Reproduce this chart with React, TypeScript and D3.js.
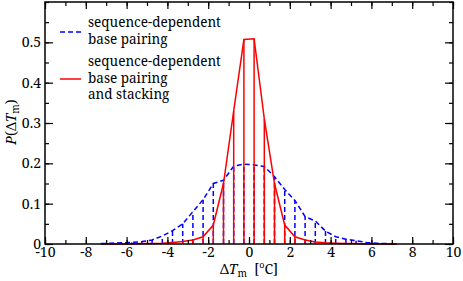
import React, { useRef, useEffect } from "react";
import * as d3 from "d3";

// bin centres (°C) and histogram values
const binCenters = [
  -7.25, -6.75, -6.25, -5.75, -5.25, -4.75, -4.25, -3.75, -3.25, -2.75, -2.25, -1.75, -1.25, -0.75, -0.25,
  0.25, 0.75, 1.25, 1.75, 2.25, 2.75, 3.25, 3.75, 4.25, 4.75, 5.25, 5.75, 6.25, 6.75, 7.25,
];
const pairingValues = [
  0.001, 0.002, 0.003, 0.004, 0.006, 0.01, 0.02, 0.033, 0.05, 0.08, 0.11, 0.15, 0.158, 0.193, 0.198,
  0.196, 0.192, 0.167, 0.135, 0.108, 0.068, 0.057, 0.032, 0.018, 0.012, 0.008, 0.004, 0.002, 0.001, 0.0,
];
const stackingValues = [
  0.0, 0.0, 0.0, 0.0, 0.001, 0.001, 0.002, 0.004, 0.006, 0.01, 0.018, 0.047, 0.15, 0.33, 0.507,
  0.509, 0.31, 0.15, 0.047, 0.018, 0.01, 0.005, 0.003, 0.002, 0.001, 0.001, 0.0, 0.0, 0.0, 0.0,
];
const legendLabels = [
  ["sequence-dependent", "base pairing"],
  ["sequence-dependent", "base pairing", "and stacking"],
];
const xMajorTicks = [-10, -8, -6, -4, -2, 0, 2, 4, 6, 8, 10];
const yMajorTicks = [0, 0.1, 0.2, 0.3, 0.4, 0.5];

// "Liberation Serif" falls back to a sans face in the sandbox, Noto Serif is real
const FONT = "Noto Serif, DejaVu Serif, serif";

function App() {
  const ref = useRef<SVGSVGElement>(null);

  useEffect(() => {
    const width = 463;
    const height = 281;
    const left = 45, right = 453, top = 2, bottom = 244;

    const svg = d3.select(ref.current);
    svg.selectAll("*").remove();

    const x = d3.scaleLinear().domain([-10, 10]).range([left, right]);
    const y = d3.scaleLinear().domain([0, 0.6]).range([bottom, top]);

    const series = [
      { values: pairingValues, color: "#0000ff", dash: "5,3" },
      { values: stackingValues, color: "#ff0000", dash: null },
    ];

    const line = d3
      .line<number>()
      .x((d, i) => x(binCenters[i]))
      .y((d) => y(d));

    series.forEach((s) => {
      const g = svg.append("g");
      // drop lines
      g.selectAll("line")
        .data(s.values)
        .enter()
        .append("line")
        .attr("x1", (d, i) => x(binCenters[i]))
        .attr("x2", (d, i) => x(binCenters[i]))
        .attr("y1", y(0))
        .attr("y2", (d) => y(d))
        .attr("stroke", s.color)
        .attr("stroke-width", 1.5)
        .attr("stroke-dasharray", s.dash);
      g.append("path")
        .datum(s.values)
        .attr("fill", "none")
        .attr("stroke", s.color)
        .attr("stroke-width", 1.5)
        .attr("stroke-dasharray", s.dash)
        .attr("d", line);
    });

    // axes with inward ticks on all sides
    const xMinor = d3.range(-10, 10.01, 1);
    const yMinor = d3.range(0, 0.6001, 0.05);
    const addAxis = (axis: any, tx: number, ty: number, labels: boolean) => {
      const g = svg
        .append("g")
        .attr("transform", `translate(${tx},${ty})`)
        .call(axis)
        .attr("font-family", FONT)
        .attr("font-size", 14);
      g.select(".domain").remove();
      g.selectAll("line").attr("stroke", "#000").attr("stroke-width", 1.2);
      g.selectAll("text").attr("fill", "#000");
      if (!labels) g.selectAll("text").remove();
      return g;
    };
    const fmtX = (d: any) => String(d);
    const fmtY = (d: any) => (d === 0 ? "0" : d3.format(".1f")(d));

    addAxis(d3.axisBottom(x).tickValues(xMinor).tickSize(-4).tickFormat(() => ""), 0, bottom, false);
    addAxis(d3.axisBottom(x).tickValues(xMajorTicks).tickSize(-7).tickPadding(3).tickFormat(fmtX), 0, bottom, true);
    addAxis(d3.axisTop(x).tickValues(xMinor).tickSize(-4).tickFormat(() => ""), 0, top, false);
    addAxis(d3.axisTop(x).tickValues(xMajorTicks).tickSize(-7).tickFormat(() => ""), 0, top, false);
    addAxis(d3.axisLeft(y).tickValues(yMinor).tickSize(-4).tickFormat(() => ""), left, 0, false);
    addAxis(d3.axisLeft(y).tickValues(yMajorTicks).tickSize(-8).tickPadding(4).tickFormat(fmtY), left, 0, true);
    addAxis(d3.axisRight(y).tickValues(yMinor).tickSize(-4).tickFormat(() => ""), right, 0, false);
    addAxis(d3.axisRight(y).tickValues(yMajorTicks).tickSize(-8).tickFormat(() => ""), right, 0, false);

    svg.append("rect")
      .attr("x", left)
      .attr("y", top)
      .attr("width", right - left)
      .attr("height", bottom - top)
      .attr("fill", "none")
      .attr("stroke", "#000")
      .attr("stroke-width", 1.5);

    // legend
    const legendY = [32, 79];
    const legendTop = [27, 66];
    legendLabels.forEach((lines, k) => {
      const s = series[k];
      svg.append("line")
        .attr("x1", 60).attr("x2", 81)
        .attr("y1", legendY[k]).attr("y2", legendY[k])
        .attr("stroke", s.color)
        .attr("stroke-width", 1.5)
        .attr("stroke-dasharray", s.dash);
      lines.forEach((t, j) => {
        svg.append("text")
          .attr("x", 88)
          .attr("y", legendTop[k] + j * 16.5)
          .attr("font-family", FONT)
          .attr("font-size", 13.5)
          .text(t);
      });
    });

    // x axis title
    const xt = svg.append("text")
      .attr("x", (left + right) / 2)
      .attr("y", 274)
      .attr("text-anchor", "middle")
      .attr("font-family", FONT)
      .attr("font-size", 14);
    xt.append("tspan").text("Δ");
    xt.append("tspan").attr("font-style", "italic").text("T");
    xt.append("tspan").attr("dy", 3).attr("font-size", 10).text("m");
    xt.append("tspan").attr("dy", -3).text("\u00a0 [");
    xt.append("tspan").attr("dy", -6).attr("font-size", 9).text("o");
    xt.append("tspan").attr("dy", 6).text("C]");

    // y axis title
    const yt = svg.append("text")
      .attr("transform", `translate(16,122) rotate(-90)`)
      .attr("text-anchor", "middle")
      .attr("font-family", FONT)
      .attr("font-size", 14);
    yt.append("tspan").attr("font-style", "italic").text("P");
    yt.append("tspan").text("(Δ");
    yt.append("tspan").attr("font-style", "italic").text("T");
    yt.append("tspan").attr("dy", 3).attr("font-size", 10).text("m");
    yt.append("tspan").attr("dy", -3).text(")");

    svg.attr("viewBox", [0, 0, width, height]);
  }, []);

  return (
    <svg
      ref={ref}
      width={463}
      height={281}
      style={{ position: "absolute", left: 0, top: 0, background: "#fff" }}
    />
  );
}

export default App;
